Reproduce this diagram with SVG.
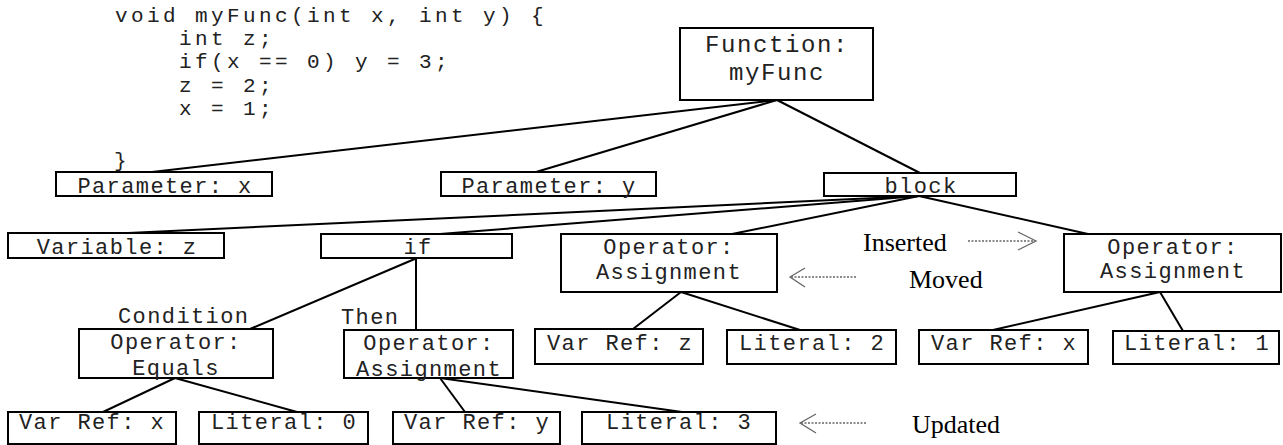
<svg xmlns="http://www.w3.org/2000/svg" width="1283" height="445" viewBox="0 0 1283 445">
<style>
.bg{fill:#fff}
.box{fill:#fff;stroke:#000;stroke-width:2}
.t{font-family:"Liberation Mono",monospace;font-size:22px;letter-spacing:1.4px;fill:#222;text-anchor:middle}
.lbl{font-family:"Liberation Mono",monospace;font-size:22px;letter-spacing:1.4px;fill:#222}
.code{font-family:"Liberation Mono",monospace;font-size:21px;letter-spacing:3.4px;fill:#222}
.big{font-family:"Liberation Mono",monospace;font-size:24px;letter-spacing:1.6px;fill:#222;text-anchor:middle}
.ser{font-family:"Liberation Serif",serif;font-size:26px;fill:#000}
.con line{stroke:#000;stroke-width:2}
.dot{stroke:#666;stroke-width:1.3;stroke-dasharray:2 1.5;fill:none}
.head{stroke:#666;stroke-width:1.3;fill:none}
</style>
<rect class="bg" x="0" y="0" width="1283" height="445"/>
<g id="code">
<text class="code" x="115" y="22">void myFunc(int x, int y) {</text>
<text class="code" x="179" y="45">int z;</text>
<text class="code" x="179" y="68">if(x == 0) y = 3;</text>
<text class="code" x="179" y="92">z = 2;</text>
<text class="code" x="179" y="115">x = 1;</text>
<text class="code" x="114" y="167">}</text>
</g>
<g id="connectors" class="con">
<line x1="777" y1="100" x2="152" y2="172"/>
<line x1="777" y1="100" x2="536" y2="172"/>
<line x1="777" y1="100" x2="920" y2="173"/>
<line x1="919" y1="196" x2="128" y2="233"/>
<line x1="919" y1="196" x2="440" y2="234"/>
<line x1="919" y1="196" x2="732" y2="234"/>
<line x1="919" y1="196" x2="1088" y2="234"/>
<line x1="417" y1="258" x2="250" y2="329"/>
<line x1="416" y1="258" x2="416" y2="330"/>
<line x1="175" y1="378" x2="103" y2="412"/>
<line x1="175" y1="378" x2="297" y2="412"/>
<line x1="440" y1="378" x2="465" y2="412"/>
<line x1="440" y1="378" x2="682" y2="412"/>
<line x1="681" y1="292" x2="633" y2="329"/>
<line x1="681" y1="292" x2="800" y2="330"/>
<line x1="1160" y1="292" x2="993" y2="330"/>
<line x1="1160" y1="292" x2="1183" y2="331"/>
</g>
<g id="n-function"><rect class="box" x="680" y="28" width="193" height="72"/><text class="big" x="777" y="52">Function:</text><text class="big" x="777" y="80">myFunc</text></g>
<g id="n-param-x"><rect class="box" x="56" y="172" width="216" height="24"/><text class="t" x="165" y="193">Parameter: x</text></g>
<g id="n-param-y"><rect class="box" x="441" y="172" width="215" height="24"/><text class="t" x="549" y="193">Parameter: y</text></g>
<g id="n-block"><rect class="box" x="824" y="173" width="192" height="23"/><text class="t" x="921" y="193">block</text></g>
<g id="n-var-z"><rect class="box" x="8" y="233" width="216" height="25"/><text class="t" x="117" y="254">Variable: z</text></g>
<g id="n-if"><rect class="box" x="321" y="234" width="191" height="24"/><text class="t" x="418" y="254">if</text></g>
<g id="n-assign-mid"><rect class="box" x="561" y="234" width="216" height="58"/><text class="t" x="669" y="254">Operator:</text><text class="t" x="669" y="279">Assignment</text></g>
<g id="n-assign-right"><rect class="box" x="1064" y="234" width="217" height="58"/><text class="t" x="1173" y="254">Operator:</text><text class="t" x="1173" y="278">Assignment</text></g>
<g id="n-equals"><text class="lbl" x="118" y="323">Condition</text><rect class="box" x="79" y="329" width="194" height="49"/><text class="t" x="176" y="349">Operator:</text><text class="t" x="176" y="375">Equals</text></g>
<g id="n-assign-then"><text class="lbl" x="341" y="324">Then</text><rect class="box" x="344" y="330" width="169" height="48"/><text class="t" x="429" y="350">Operator:</text><text class="t" x="429" y="376">Assignment</text></g>
<g id="n-varref-z"><rect class="box" x="535" y="329" width="168" height="35"/><text class="t" x="620" y="350">Var Ref: z</text></g>
<g id="n-literal-2"><rect class="box" x="727" y="330" width="169" height="34"/><text class="t" x="812" y="350">Literal: 2</text></g>
<g id="n-varref-x2"><rect class="box" x="919" y="330" width="169" height="34"/><text class="t" x="1004" y="350">Var Ref: x</text></g>
<g id="n-literal-1"><rect class="box" x="1113" y="331" width="166" height="33"/><text class="t" x="1197" y="350">Literal: 1</text></g>
<g id="n-varref-x"><rect class="box" x="8" y="412" width="168" height="32"/><text class="t" x="92" y="429">Var Ref: x</text></g>
<g id="n-literal-0"><rect class="box" x="199" y="412" width="169" height="32"/><text class="t" x="284" y="429">Literal: 0</text></g>
<g id="n-varref-y"><rect class="box" x="393" y="412" width="167" height="32"/><text class="t" x="477" y="429">Var Ref: y</text></g>
<g id="n-literal-3"><rect class="box" x="582" y="412" width="194" height="32"/><text class="t" x="679" y="429">Literal: 3</text></g>
<g id="legend">
<text class="ser" x="863" y="251">Inserted</text>
<line class="dot" x1="968" y1="241" x2="1035" y2="241"/>
<polyline class="head" points="1018,232 1036,241 1018,250"/>
<line class="dot" x1="791" y1="277" x2="857" y2="277"/>
<polyline class="head" points="805,268 790,277 805,287"/>
<text class="ser" x="909" y="288">Moved</text>
<line class="dot" x1="801" y1="423" x2="867" y2="423"/>
<polyline class="head" points="816,414 800,423 816,433"/>
<text class="ser" x="912" y="433">Updated</text>
</g>
</svg>
